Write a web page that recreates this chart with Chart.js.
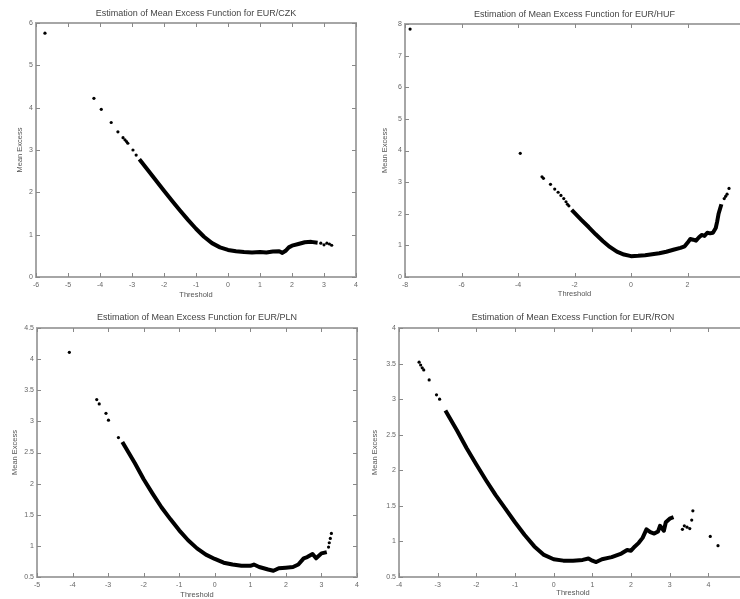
<!DOCTYPE html>
<html>
<head>
<meta charset="utf-8">
<title>Mean Excess Functions</title>
<script src="https://cdn.jsdelivr.net/npm/chart.js@4.4.1/dist/chart.umd.min.js"></script>
<style>
    html, body { margin: 0; padding: 0; width: 740px; height: 599px; overflow: hidden; background: #fff; }
    canvas { position: absolute; }
</style>
</head>
<body>
<canvas id="czk" width="370" height="300" style="left:0;top:0"></canvas>
<canvas id="huf" width="390" height="300" style="left:370px;top:0"></canvas>
<canvas id="pln" width="370" height="299" style="left:0;top:300px"></canvas>
<canvas id="ron" width="390" height="299" style="left:370px;top:300px"></canvas>
<script>
// EUR/CZK - isolated points in the tails, and the dense part of the curve
const czkTailX = [-5.72, -4.19, -3.96, -3.65, -3.44, -3.28, -3.22, -3.17, -3.13, -2.97, -2.87, 2.9, 3.0, 3.09, 3.17, 3.24];
const czkTailY = [5.76, 4.22, 3.96, 3.65, 3.43, 3.29, 3.24, 3.20, 3.16, 3.00, 2.88, 0.80, 0.76, 0.80, 0.78, 0.75];
const czkCurveX = [-2.77, -2.5, -2.25, -2.0, -1.75, -1.5, -1.25, -1.0, -0.75, -0.5, -0.25, 0.0, 0.25, 0.5, 0.75, 1.0, 1.2, 1.4, 1.6, 1.7, 1.8, 1.9, 2.0, 2.2, 2.4, 2.6, 2.8];
const czkCurveY = [2.78, 2.52, 2.28, 2.04, 1.80, 1.57, 1.35, 1.14, 0.95, 0.80, 0.70, 0.64, 0.61, 0.59, 0.58, 0.59, 0.58, 0.60, 0.61, 0.57, 0.62, 0.70, 0.74, 0.78, 0.82, 0.83, 0.81];

// EUR/HUF
const hufTailX = [-7.82, -3.92, -3.15, -3.1, -2.85, -2.7, -2.58, -2.48, -2.38, -2.3, -2.25, -2.2, 3.3, 3.35, 3.4, 3.47];
const hufTailY = [7.84, 3.91, 3.17, 3.12, 2.93, 2.78, 2.68, 2.58, 2.48, 2.38, 2.30, 2.25, 2.48, 2.55, 2.62, 2.80];
const hufCurveX = [-2.1, -1.75, -1.5, -1.25, -1.0, -0.75, -0.5, -0.25, 0.0, 0.25, 0.5, 0.75, 1.0, 1.25, 1.5, 1.75, 1.9, 2.0, 2.1, 2.2, 2.3, 2.4, 2.5, 2.6, 2.7, 2.8, 2.9, 3.0, 3.05, 3.1, 3.15, 3.2];
const hufCurveY = [2.12, 1.80, 1.58, 1.35, 1.14, 0.95, 0.80, 0.71, 0.66, 0.67, 0.69, 0.72, 0.75, 0.80, 0.86, 0.92, 0.97, 1.08, 1.20, 1.18, 1.15, 1.25, 1.33, 1.30, 1.40, 1.38, 1.40, 1.55, 1.75, 2.00, 2.15, 2.30];

// EUR/PLN
const plnTailX = [-4.09, -3.32, -3.25, -3.06, -2.99, -2.71, 3.2, 3.22, 3.25, 3.28];
const plnTailY = [4.11, 3.35, 3.28, 3.13, 3.02, 2.74, 0.98, 1.05, 1.12, 1.20];
const plnCurveX = [-2.6, -2.25, -2.0, -1.75, -1.5, -1.25, -1.0, -0.75, -0.5, -0.25, 0.0, 0.25, 0.5, 0.75, 1.0, 1.1, 1.25, 1.5, 1.65, 1.8, 2.0, 2.2, 2.35, 2.5, 2.6, 2.75, 2.85, 3.0, 3.15];
const plnCurveY = [2.67, 2.33, 2.07, 1.84, 1.62, 1.43, 1.25, 1.09, 0.96, 0.86, 0.79, 0.73, 0.70, 0.68, 0.68, 0.70, 0.66, 0.62, 0.60, 0.64, 0.65, 0.66, 0.70, 0.80, 0.82, 0.87, 0.80, 0.88, 0.90];

// EUR/RON
const ronTailX = [-3.48, -3.44, -3.40, -3.36, -3.22, -3.03, -2.95, 3.33, 3.38, 3.45, 3.52, 3.57, 3.6, 4.05, 4.25];
const ronTailY = [3.52, 3.48, 3.44, 3.41, 3.27, 3.06, 3.00, 1.17, 1.22, 1.20, 1.18, 1.30, 1.43, 1.07, 0.94];
const ronCurveX = [-2.8, -2.5, -2.25, -2.0, -1.75, -1.5, -1.25, -1.0, -0.75, -0.5, -0.25, 0.0, 0.25, 0.5, 0.75, 0.9, 1.0, 1.1, 1.25, 1.5, 1.75, 1.9, 2.0, 2.1, 2.2, 2.3, 2.4, 2.5, 2.6, 2.7, 2.75, 2.85, 2.9, 3.0, 3.1];
const ronCurveY = [2.84, 2.56, 2.31, 2.08, 1.86, 1.65, 1.46, 1.27, 1.09, 0.93, 0.81, 0.75, 0.73, 0.73, 0.74, 0.76, 0.73, 0.71, 0.75, 0.78, 0.83, 0.88, 0.87, 0.93, 0.98, 1.05, 1.17, 1.13, 1.11, 1.14, 1.22, 1.15, 1.27, 1.32, 1.34];

const FONT = 'Liberation Sans, Arial, sans-serif';

function zip(xs, ys) {
    return xs.map((x, i) => ({ x: x, y: ys[i] }));
}

// grey box round the plot with short ticks pointing inwards on every side
const boxTicks = {
    id: 'boxTicks',
    beforeDatasetsDraw(chart) {
        const { ctx, chartArea: a, scales } = chart;
        ctx.save();
        ctx.strokeStyle = '#a6a6a6';
        ctx.lineWidth = 2;
        ctx.strokeRect(a.left, a.top, a.right - a.left, a.bottom - a.top);
        ctx.strokeStyle = '#888';
        ctx.lineWidth = 1;
        ctx.beginPath();
        scales.x.ticks.forEach(t => {
            const px = Math.round(scales.x.getPixelForValue(t.value)) + 0.5;
            ctx.moveTo(px, a.bottom); ctx.lineTo(px, a.bottom - 4);
            ctx.moveTo(px, a.top); ctx.lineTo(px, a.top + 4);
        });
        scales.y.ticks.forEach(t => {
            const py = Math.round(scales.y.getPixelForValue(t.value)) + 0.5;
            ctx.moveTo(a.left, py); ctx.lineTo(a.left + 4, py);
            ctx.moveTo(a.right, py); ctx.lineTo(a.right - 4, py);
        });
        ctx.stroke();
        ctx.restore();
    }
};

// plain numbers: "1", "1.5", "-2"
const plainLabel = v => String(+v.toFixed(2));

function makePanel(id, p) {
    new Chart(document.getElementById(id), {
        type: 'scatter',
        data: {
            datasets: [
                {
                    data: zip(p.curveX, p.curveY),
                    showLine: true,
                    borderColor: '#000',
                    borderWidth: 4,
                    borderJoinStyle: 'round',
                    pointRadius: 0
                },
                {
                    data: zip(p.tailX, p.tailY),
                    backgroundColor: '#000',
                    borderWidth: 0,
                    pointRadius: 1.6
                }
            ]
        },
        options: {
            responsive: false,
            animation: false,
            devicePixelRatio: 1,
            layout: { padding: { left: 0, top: 0, right: p.padRight, bottom: 0 } },
            plugins: {
                legend: { display: false },
                tooltip: { enabled: false },
                title: {
                    display: true,
                    text: p.title,
                    fullSize: false,
                    color: '#444',
                    font: { family: FONT, size: 9, weight: 'normal' },
                    padding: { top: p.titleTop, bottom: p.titleBottom }
                }
            },
            scales: {
                x: {
                    type: 'linear',
                    min: p.xMin, max: p.xMax,
                    afterFit: s => { s.height = p.xHeight; },
                    grid: { display: false, drawTicks: false },
                    border: { display: false },
                    ticks: {
                        stepSize: p.xStep, autoSkip: false, maxRotation: 0,
                        padding: 4, color: '#666',
                        font: { family: FONT, size: 7 },
                        callback: plainLabel
                    },
                    title: {
                        display: true, text: 'Threshold', color: '#555',
                        font: { family: FONT, size: 7.5 },
                        padding: { top: 0, bottom: p.xTitlePad }
                    }
                },
                y: {
                    type: 'linear',
                    min: p.yMin, max: p.yMax,
                    afterFit: s => { s.width = p.yWidth; },
                    grid: { display: false, drawTicks: false },
                    border: { display: false },
                    ticks: {
                        stepSize: p.yStep, autoSkip: false,
                        padding: 3, color: '#666',
                        font: { family: FONT, size: 7 },
                        callback: plainLabel
                    },
                    title: {
                        display: true, text: 'Mean Excess', color: '#555',
                        font: { family: FONT, size: 7.5 },
                        padding: { top: p.yTitlePad, bottom: 0 }
                    }
                }
            }
        },
        plugins: [boxTicks]
    });
}

makePanel('czk', {
    title: 'Estimation of Mean Excess Function for EUR/CZK',
    tailX: czkTailX, tailY: czkTailY, curveX: czkCurveX, curveY: czkCurveY,
    xMin: -6, xMax: 4, xStep: 1, yMin: 0, yMax: 6, yStep: 1,
    yWidth: 36, xHeight: 23, padRight: 14, titleTop: 8, titleBottom: 4.2,
    xTitlePad: 0.5, yTitlePad: 15
});

makePanel('huf', {
    title: 'Estimation of Mean Excess Function for EUR/HUF',
    tailX: hufTailX, tailY: hufTailY, curveX: hufCurveX, curveY: hufCurveY,
    xMin: -8, xMax: 4, xStep: 2, yMin: 0, yMax: 8, yStep: 1,
    yWidth: 35, xHeight: 23, padRight: 16, titleTop: 9.5, titleBottom: 3.7,
    xTitlePad: 2, yTitlePad: 10.5
});

makePanel('pln', {
    title: 'Estimation of Mean Excess Function for EUR/PLN',
    tailX: plnTailX, tailY: plnTailY, curveX: plnCurveX, curveY: plnCurveY,
    xMin: -5, xMax: 4, xStep: 1, yMin: 0.5, yMax: 4.5, yStep: 0.5,
    yWidth: 37, xHeight: 22, padRight: 13, titleTop: 12.6, titleBottom: 4.6,
    xTitlePad: 0, yTitlePad: 10.5
});

makePanel('ron', {
    title: 'Estimation of Mean Excess Function for EUR/RON',
    tailX: ronTailX, tailY: ronTailY, curveX: ronCurveX, curveY: ronCurveY,
    xMin: -4, xMax: 5, xStep: 1, yMin: 0.5, yMax: 4, yStep: 0.5,
    yWidth: 29, xHeight: 22, padRight: 13, titleTop: 12.6, titleBottom: 4.6,
    xTitlePad: 1.5, yTitlePad: 0
});
</script>
</body>
</html>
